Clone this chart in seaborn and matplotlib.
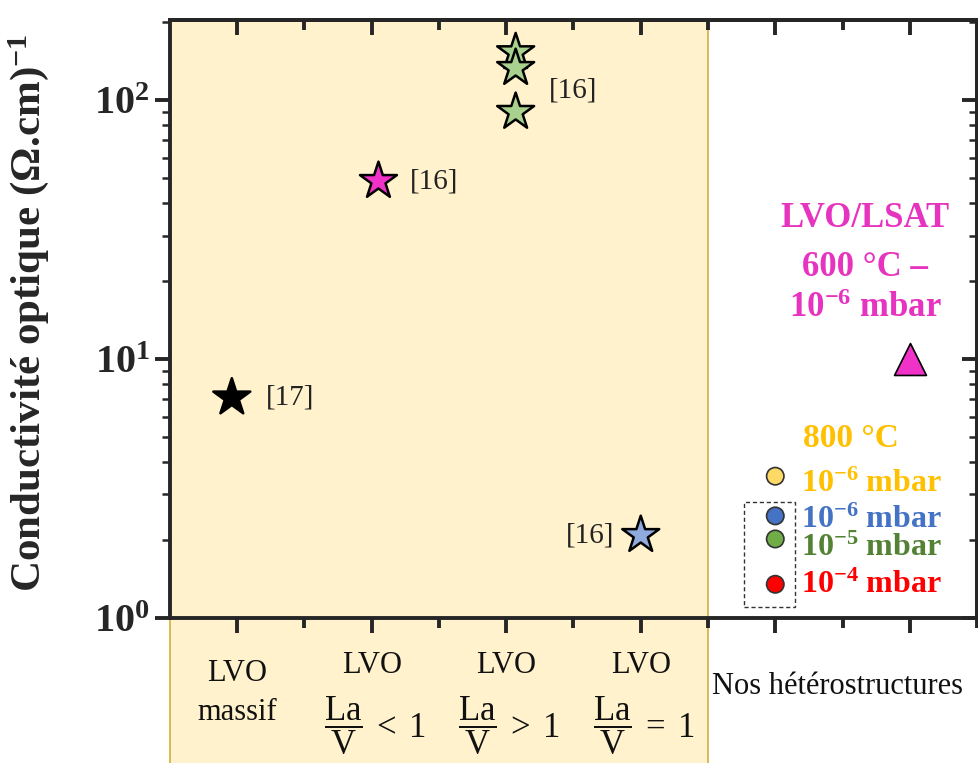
import numpy as np
import pandas as pd
import seaborn as sns
import matplotlib.pyplot as plt
from matplotlib.patches import Rectangle

# literature values (stars)
lit_x = [0.96, 2.05, 3.07, 3.07, 3.07, 4.0]
lit_y = [7.1, 48.7, 153, 133, 90, 2.09]
lit_group = ["massif", "La<V", "La>V", "La>V", "La>V", "La=V"]
lit_colors = {"massif": "black", "La<V": "#F032C8", "La>V": "#A9D18E", "La=V": "#8FAADC"}

# our heterostructures, 800 C (circles)
het_x = [5, 5, 5, 5]
het_y = [3.53, 2.48, 2.02, 1.35]
het_group = ["y1e-6", "b1e-6", "g1e-5", "r1e-4"]
het_colors = {"y1e-6": "#FFD966", "b1e-6": "#4472C4", "g1e-5": "#70AD47", "r1e-4": "#FF0000"}

# LVO/LSAT 600 C (triangle)
lsat_x = [6]
lsat_y = [10.0]

refs = [("[17]", 1.21, 7.1, "left"), ("[16]", 2.28, 48.7, "left"),
        ("[16]", 3.32, 109, "left"), ("[16]", 3.80, 2.09, "right")]

sns.set_style("ticks")
plt.rcParams["font.family"] = ["Liberation Serif", "DejaVu Serif"]
plt.rcParams["mathtext.fontset"] = "custom"
plt.rcParams["mathtext.rm"] = "Liberation Serif"
plt.rcParams["mathtext.it"] = "Liberation Serif:italic"
plt.rcParams["mathtext.bf"] = "Liberation Serif:bold"

fig = plt.figure(figsize=(9.79, 7.63), dpi=100)
ax = fig.add_axes([0.1736, 0.19, 0.8244, 0.7838])

df_lit = pd.DataFrame({"x": lit_x, "y": lit_y, "g": lit_group})
df_het = pd.DataFrame({"x": het_x, "y": het_y, "g": het_group})
df_lsat = pd.DataFrame({"x": lsat_x, "y": lsat_y})

sns.scatterplot(data=df_lit, x="x", y="y", hue="g", palette=lit_colors, marker="*",
                s=28 ** 2, edgecolor="black", linewidth=1.8, legend=False, ax=ax, zorder=3)
sns.scatterplot(data=df_het, x="x", y="y", hue="g", palette=het_colors, marker="o",
                s=12.5 ** 2, edgecolor="#333333", linewidth=1.2, legend=False, ax=ax, zorder=3)
sns.scatterplot(data=df_lsat, x="x", y="y", color="#F032C8", marker="^",
                s=23 ** 2, edgecolor="black", linewidth=1.2, legend=False, ax=ax, zorder=3)

ax.set_yscale("log")
ax.set_xlim(0.5, 6.5)
ax.set_ylim(1, 204)

# shaded literature region, extending below the axes
ax.add_patch(Rectangle((0.5, -0.245), 4.0, 1.245, transform=ax.get_xaxis_transform(),
                       facecolor="#FFF2CC", edgecolor="#D6AE3C", linewidth=1.2,
                       clip_on=False, zorder=0))

# dashed box around the grouped circles
ax.add_patch(Rectangle((4.77, 1.10), 0.38, 1.70, fill=False, edgecolor="#333333",
                       linestyle=(0, (3, 2)), linewidth=1.0, zorder=2))

for txt, x, y, ha in refs:
    ax.text(x, y, txt, ha=ha, va="center", fontsize=21, color="#222222")

pink = "#E633C0"
ax.text(5.67, 35, "LVO/LSAT", ha="center", va="center", fontsize=25, fontweight="bold", color=pink)
ax.text(5.67, 22.5, "600 °C –", ha="center", va="center", fontsize=25, fontweight="bold", color=pink)
ax.text(5.67, 15.7, r"$\mathbf{10^{-6}}$ mbar", ha="center", va="center", fontsize=25,
        fontweight="bold", color=pink)

ax.text(5.56, 4.95, "800 °C", ha="center", va="center", fontsize=24, fontweight="bold", color="#FFC000")
leg_rows = [(3.29, "-6", "#FFC000"), (2.39, "-6", "#4472C4"),
            (1.85, "-5", "#548235"), (1.34, "-4", "#FF0000")]
for y, e, c in leg_rows:
    ax.text(5.19, y, r"$\mathbf{10^{%s}}$ mbar" % e, ha="left", va="center", fontsize=23,
            fontweight="bold", color=c)

# axes styling
for sp in ax.spines.values():
    sp.set_linewidth(2.8)
    sp.set_visible(True)
ax.set_xticks([1, 2, 3, 4, 5, 6])
ax.set_xticks([1.5, 2.5, 3.5, 4.5, 5.5, 6.5], minor=True)
ax.set_xticklabels([])
ax.tick_params(axis="both", which="major", direction="out", length=11, width=2.8)
ax.tick_params(axis="both", which="minor", direction="out", length=7, width=2.8)
ax.tick_params(axis="y", which="minor", length=6, width=1.8)
ax.set_yticks([1, 10, 100])
ax.set_yticklabels([r"$\mathbf{10^{0}}$", r"$\mathbf{10^{1}}$", r"$\mathbf{10^{2}}$"], fontsize=29)
ax.set_xlabel("")
ax.set_ylabel(r"Conductivité optique (Ω.cm)$^{\mathbf{-1}}$", fontsize=31, fontweight="bold")
ax.yaxis.set_label_coords(-0.148, 0.51)

top = ax.secondary_xaxis("top")
top.set_xticks([1, 2, 3, 4, 5, 6])
top.set_xticks([1.5, 2.5, 3.5, 4.5, 5.5, 6.5], minor=True)
top.set_xticklabels([])
top.tick_params(which="major", direction="in", length=11, width=2.8)
top.tick_params(which="minor", direction="in", length=7, width=2.8)
top.spines["top"].set_linewidth(2.8)

right = ax.secondary_yaxis("right")
right.set_yticks([1, 10, 100])
right.set_yticklabels([])
right.tick_params(which="major", direction="in", length=11, width=2.8)
right.tick_params(which="minor", direction="in", length=6, width=1.8, labelright=False)
right.yaxis.set_minor_formatter(plt.NullFormatter())
right.spines["right"].set_linewidth(2.8)

# category labels under the axis
lab = dict(transform=ax.get_xaxis_transform(), ha="center", va="center", fontsize=22, color="#111111")
ax.text(1, -0.093, "LVO", **lab)
ax.text(1, -0.158, "massif", **lab)
for x, op in [(2, "<"), (3, ">"), (4, "=")]:
    ax.text(x, -0.080, "LVO", **lab)
    ax.text(x + 0.02, -0.180, r"$\dfrac{\mathrm{La}}{\mathrm{V}}\;%s\;1$" % op,
            transform=ax.get_xaxis_transform(), ha="center", va="center",
            fontsize=25, color="#111111")
ax.text(4.53, -0.114, "Nos hétérostructures", transform=ax.get_xaxis_transform(),
        ha="left", va="center", fontsize=22, color="#111111")

fig.savefig("out.png", dpi=100)
